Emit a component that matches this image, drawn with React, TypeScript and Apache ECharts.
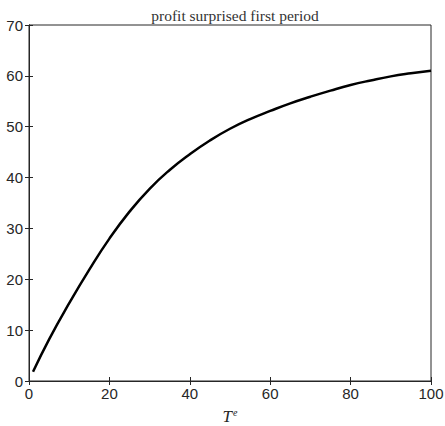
import React, { useEffect, useRef } from "react";
import * as echarts from "echarts";

const xValues = [1, 5, 10, 15, 20, 25, 30, 35, 40, 45, 50, 55, 60, 65, 70, 75, 80, 85, 90, 95, 100];
const profit = [1.8, 8.2, 15.3, 21.9, 28.0, 33.3, 37.8, 41.5, 44.6, 47.3, 49.6, 51.5, 53.1, 54.6, 55.9, 57.1, 58.2, 59.1, 59.9, 60.5, 61.0];
const xTicks = [0, 20, 40, 60, 80, 100];
const yTicks = [0, 10, 20, 30, 40, 50, 60, 70];
const titleText = "profit surprised first period";

export default function App() {
  const ref = useRef<HTMLDivElement>(null);
  useEffect(() => {
    if (!ref.current) return;
    const chart = echarts.init(ref.current, undefined, { renderer: "svg" });
    const axisLine = { show: true, lineStyle: { color: "#262626", width: 1 } };
    const tick = { show: true, inside: true, length: 4, lineStyle: { color: "#262626", width: 1 } };
    const labelFont = { fontFamily: "Liberation Sans, Arial, sans-serif", fontSize: 15, color: "#262626" };
    chart.setOption({
      animation: false,
      title: {
        text: titleText,
        left: 230,
        textAlign: "center",
        top: 2,
        textStyle: { fontFamily: "Liberation Serif, Times New Roman, serif", fontSize: 15.5, fontWeight: "normal", color: "#333" },
      },
      grid: {
        left: 29,
        right: 14,
        top: 25,
        bottom: 45,
        show: true,
        borderColor: "#262626",
        borderWidth: 1,
        outerBoundsMode: "none",
        containLabel: false,
      },
      xAxis: [
        {
          type: "value",
          min: xTicks[0],
          max: xTicks[xTicks.length - 1],
          interval: 20,
          axisLine,
          axisTick: tick,
          splitLine: { show: false },
          axisLabel: { ...labelFont, margin: 5 },
          name: "{t|T}{e|e}",
          nameLocation: "middle",
          nameGap: 27,
          nameTextStyle: {
            lineHeight: 16,
            rich: {
              t: { fontFamily: "Liberation Serif, serif", fontStyle: "italic", fontSize: 17, lineHeight: 16, color: "#262626" },
              e: { fontFamily: "Liberation Serif, serif", fontStyle: "italic", fontSize: 10, lineHeight: 16, color: "#262626", padding: [0, 0, 8, 1] },
            },
          },
        },
        {
          type: "value",
          position: "top",
          min: xTicks[0],
          max: xTicks[xTicks.length - 1],
          interval: 20,
          axisLine,
          axisTick: tick,
          splitLine: { show: false },
          axisLabel: { show: false },
        },
      ],
      yAxis: [
        {
          type: "value",
          min: yTicks[0],
          max: yTicks[yTicks.length - 1],
          interval: 10,
          axisLine,
          axisTick: tick,
          splitLine: { show: false },
          axisLabel: { ...labelFont, margin: 6 },
        },
        {
          type: "value",
          position: "right",
          min: yTicks[0],
          max: yTicks[yTicks.length - 1],
          interval: 10,
          axisLine,
          axisTick: tick,
          splitLine: { show: false },
          axisLabel: { show: false },
        },
      ],
      series: [
        {
          type: "line",
          data: xValues.map((x, i) => [x, profit[i]]),
          smooth: true,
          showSymbol: false,
          lineStyle: { color: "#000", width: 2.5 },
        },
      ],
    });
    return () => chart.dispose();
  }, []);
  return <div ref={ref} style={{ width: 445, height: 426, position: "absolute", left: 0, top: 0 }} />;
}
